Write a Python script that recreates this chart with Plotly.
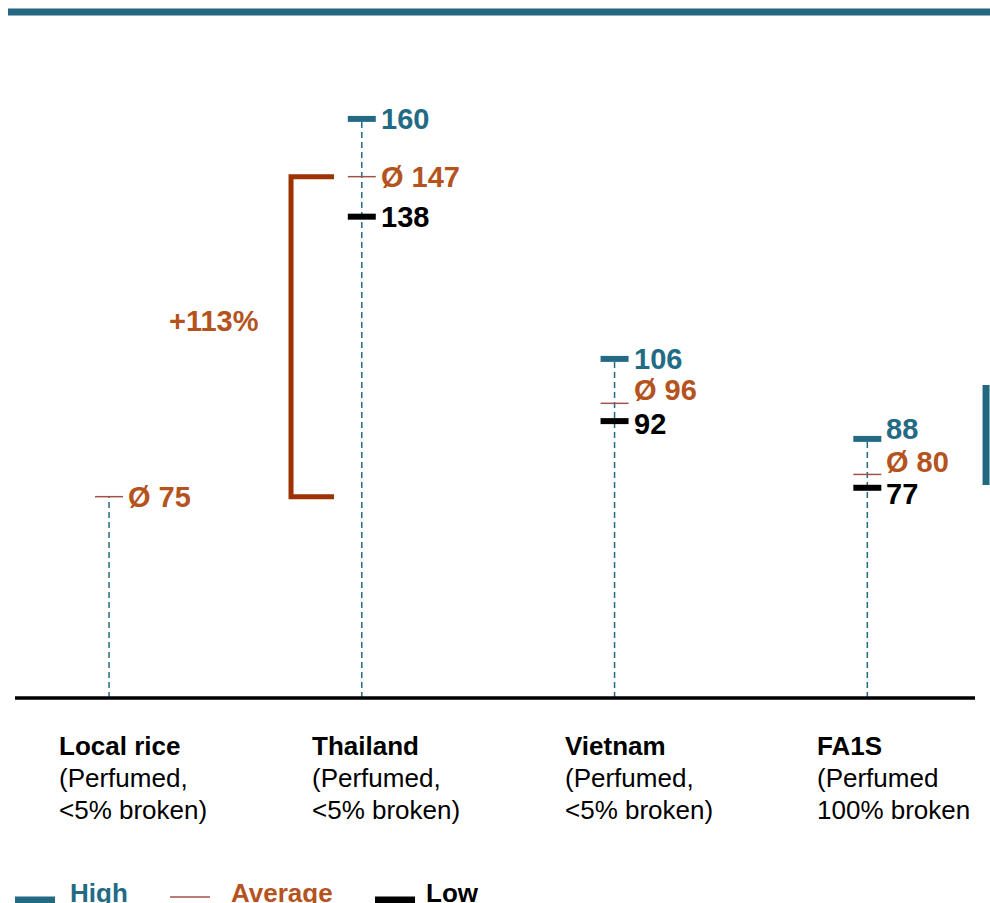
import plotly.graph_objects as go

# ---------------- data ----------------
categories = ["Local rice", "Thailand", "Vietnam", "FA1S"]
subtitle_line1 = ["(Perfumed,", "(Perfumed,", "(Perfumed,", "(Perfumed"]
subtitle_line2 = ["&lt;5% broken)", "&lt;5% broken)", "&lt;5% broken)", "100% broken"]
high = [None, 160, 106, 88]
average = [75, 147, 96, 80]
low = [None, 138, 92, 77]
gap_label = "+113%"
legend_labels = ["High", "Average", "Low"]

# ---------------- style ----------------
BLUE = "#236B85"
BROWN_LINE = "#A0524A"
BROWN_TEXT = "#B5531E"
BRACKET = "#9C3300"
FONT = "Liberation Sans, Arial, sans-serif"
Y_MIN, Y_MAX = 29.7, 180
X_MIN, X_MAX = -0.372, 3.426
VAL_SIZE = 29

# label vertical nudges (pixels) to avoid overlaps
high_shift = [0, 0, 0, 10]
avg_shift = [0, 0, 13, 12]
low_shift = [0, 0, -3, -6]

xs = list(range(len(categories)))
fig = go.Figure()

# stems
for i in xs:
    top = high[i] if high[i] is not None else average[i]
    fig.add_trace(go.Scatter(x=[i, i], y=[Y_MIN, top], mode="lines",
                             line=dict(color=BLUE, width=1.5, dash="6px,4px"),
                             hoverinfo="skip", showlegend=False))

def pick(vals):
    return [i for i in xs if vals[i] is not None], [v for v in vals if v is not None]

px_, py_ = pick(high)
fig.add_trace(go.Scatter(x=px_, y=py_, mode="markers", showlegend=False,
                         marker=dict(symbol="line-ew", size=20,
                                     line=dict(color=BLUE, width=6))))
px_, py_ = pick(average)
fig.add_trace(go.Scatter(x=px_, y=py_, mode="markers", showlegend=False,
                         marker=dict(symbol="line-ew", size=20,
                                     line=dict(color=BROWN_LINE, width=1.5))))
px_, py_ = pick(low)
fig.add_trace(go.Scatter(x=px_, y=py_, mode="markers", showlegend=False,
                         marker=dict(symbol="line-ew", size=20,
                                     line=dict(color="black", width=6))))

annotations = []
def vlabel(i, v, text, color, ys):
    annotations.append(dict(x=i, y=v, xref="x", yref="y", text=f"<b>{text}</b>",
                            showarrow=False, xanchor="left", yanchor="middle",
                            xshift=17, yshift=ys,
                            font=dict(family=FONT, size=VAL_SIZE, color=color)))

for i in xs:
    if high[i] is not None:
        vlabel(i, high[i], str(high[i]), BLUE, high_shift[i])
    vlabel(i, average[i], f"Ø {average[i]}", BROWN_TEXT, avg_shift[i])
    if low[i] is not None:
        vlabel(i, low[i], str(low[i]), "black", low_shift[i])

# bracket between Thailand average and local average
bx0, bx1 = xs[1] - 0.28, xs[1] - 0.11
fig.add_trace(go.Scatter(x=[bx1, bx0, bx0, bx1],
                         y=[average[1], average[1], average[0], average[0]],
                         mode="lines", line=dict(color=BRACKET, width=5),
                         hoverinfo="skip", showlegend=False))
annotations.append(dict(x=bx0, y=(average[0] + average[1]) / 2, xref="x", yref="y",
                        text=f"<b>{gap_label}</b>", showarrow=False,
                        xanchor="right", yanchor="middle", xshift=-30, yshift=16,
                        font=dict(family=FONT, size=VAL_SIZE, color=BROWN_TEXT)))

# category labels (one annotation per line)
CAT_SIZE = 26
for i in xs:
    for txt, yp in ((f"<b>{categories[i]}</b>", -0.0719),
                    (subtitle_line1[i], -0.1198),
                    (subtitle_line2[i], -0.1677)):
        annotations.append(dict(x=i, y=yp, xref="x", yref="paper", text=txt,
                                showarrow=False, xanchor="left", yanchor="middle",
                                align="left", xshift=-52,
                                font=dict(family=FONT, size=CAT_SIZE, color="black")))

# legend (drawn)
legend_colors = [BLUE, BROWN_TEXT, "black"]
legend_x = [0.0552, 0.2229, 0.426]
for lab, c, lxp in zip(legend_labels, legend_colors, legend_x):
    annotations.append(dict(x=lxp, y=-0.292, xref="paper", yref="paper",
                            text=f"<b>{lab}</b>", showarrow=False,
                            xanchor="left", yanchor="middle",
                            font=dict(family=FONT, size=26, color=c)))

shapes = [
    dict(type="line", xref="paper", yref="paper", x0=0, x1=1, y0=0, y1=0,
         line=dict(color="black", width=3.5)),
    dict(type="line", xref="paper", yref="paper", x0=-0.0073, x1=1.02, y0=1.027, y1=1.027,
         line=dict(color="#236780", width=7)),
    dict(type="line", xref="paper", yref="paper", x0=1.0115, x1=1.0115, y0=0.4686, y1=0.3189,
         line=dict(color="#236780", width=7)),
    dict(type="line", xref="paper", yref="paper", x0=0, x1=0.0417, y0=-0.3024, y1=-0.3024,
         line=dict(color=BLUE, width=7)),
    dict(type="line", xref="paper", yref="paper", x0=0.1615, x1=0.2031, y0=-0.2979, y1=-0.2979,
         line=dict(color=BROWN_LINE, width=1.5)),
    dict(type="line", xref="paper", yref="paper", x0=0.375, x1=0.4167, y0=-0.3024, y1=-0.3024,
         line=dict(color="black", width=7)),
]

fig.update_layout(
    width=990, height=903,
    margin=dict(l=15, r=15, t=30, b=205),
    paper_bgcolor="white", plot_bgcolor="white",
    xaxis=dict(range=[X_MIN, X_MAX], visible=False, fixedrange=True),
    yaxis=dict(range=[Y_MIN, Y_MAX], visible=False, fixedrange=True),
    annotations=annotations, shapes=shapes, showlegend=False,
    font=dict(family=FONT),
)

fig.write_html("out.html", config={"displayModeBar": False},
               post_script="document.body.style.margin='0';document.body.style.overflow='hidden';")
